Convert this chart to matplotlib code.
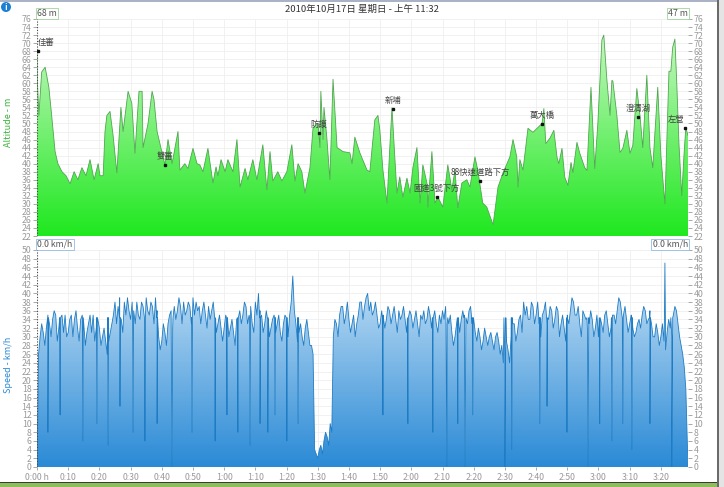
import numpy as np
import matplotlib.pyplot as plt
from matplotlib.patches import PathPatch, Ellipse, Rectangle
from matplotlib.colors import LinearSegmentedColormap

plt.rcParams['font.family'] = ['Noto Sans CJK TC', 'DejaVu Sans']

title = '2010年10月17日 星期日 - 上午 11:32'

# altitude profile (minutes, m)
alt_t = [0.0, 0.1, 0.6, 1.5, 2.6, 3.1, 3.8, 4.7, 5.8, 6.7, 8.0, 9.3, 10.6, 11.9, 13.1, 14.4,
         15.7, 17.0, 18.3, 19.6, 20.2, 21.2, 21.8, 22.4, 23.4, 24.4, 25.6, 26.9, 27.6, 29.2,
         30.4, 31.4, 32.7, 33.7, 34.0, 35.6, 36.9, 37.5, 38.5, 39.4, 41.0, 42.0, 43.3, 45.2,
         45.8, 47.4, 48.4, 50.0, 51.3, 52.2, 53.2, 54.8, 56.4, 57.4, 58.0, 59.0, 60.3, 61.2,
         62.8, 64.1, 65.1, 66.7, 67.6, 69.2, 70.5, 72.4, 73.7, 74.7, 75.6, 77.2, 78.5, 80.1,
         81.7, 82.7, 83.7, 84.9, 85.9, 87.5, 88.5, 90.1, 90.7, 91.0, 91.7, 92.0, 92.9, 93.9,
         94.9, 96.2, 98.1, 100.3, 101.0, 101.9, 103.5, 105.8, 106.7, 108.3, 109.3, 109.9,
         110.9, 112.2, 113.1, 113.8, 114.7, 115.4, 116.3, 117.3, 118.6, 119.6, 120.5, 121.8,
         122.8, 123.7, 125.0, 125.3, 126.6, 127.6, 128.5, 130.1, 131.7, 133.0, 134.0, 134.9,
         136.2, 137.8, 138.8, 140.4, 141.3, 142.9, 144.2, 146.2, 147.8, 149.4, 151.6, 152.6,
         153.8, 154.2, 154.8, 155.8, 157.4, 159.0, 160.6, 161.9, 162.5, 163.1, 164.4, 165.7,
         166.7, 167.3, 168.3, 169.2, 170.2, 171.2, 171.8, 173.1, 174.0, 175.6, 176.3, 177.6,
         178.8, 179.8, 181.1, 181.7, 182.7, 183.7, 184.3, 184.6, 185.9, 186.9, 187.8, 189.1,
         190.1, 191.0, 192.3, 193.3, 194.2, 195.5, 196.5, 197.4, 199.0, 200.0, 201.3, 201.9,
         202.6, 203.2, 203.8, 204.5, 205.1, 205.8, 206.7, 207.4, 208.0, 208.7]
alt_m = [68, 61, 52, 62.8, 64, 62, 59, 52, 43, 40, 38, 37, 35, 38, 36, 39,
         37, 41, 36, 40, 37, 37, 48, 52, 53, 47, 37.7, 54, 48, 58,
         55, 42.6, 58, 58, 44, 50, 58, 56, 48, 45, 39.7, 46, 40, 48,
         38.4, 40, 38.8, 43.8, 40, 39.7, 38, 43.8, 35.2, 39.2, 37, 41, 38, 41,
         38, 46, 34.2, 38.8, 36, 41, 36, 44.7, 33.5, 43, 35.7, 38, 35.7, 38,
         44.7, 35.7, 40, 38, 32.7, 39, 49, 50, 44, 58, 46, 54, 46.6, 36,
         61, 44, 43, 42.7, 40, 46.6, 42.7, 38.4, 38, 50.9, 52, 48.4,
         38.4, 30.2, 44, 53.9, 41.7, 32.7, 36.7, 31.7, 36.4, 32.7, 39, 44,
         30.2, 39.7, 35.2, 29.2, 43, 30.2, 31.7, 29.2, 39.7, 33.5, 38.4, 29,
         35.2, 36, 34.2, 41.7, 38.4, 30.2, 29.2, 24.8, 34.2, 37.7, 41.7, 46,
         41.7, 34.2, 41, 38.4, 48.8, 47.8, 49, 50, 53.7, 45, 46.3, 48.3,
         41.6, 40, 43.8, 36.6, 34.6, 40.3, 37.8, 45.3, 42.6, 39, 38.3, 59,
         38.8, 50, 70.8, 72, 60.8, 52, 60.7, 60.6, 52, 42.8, 43.8, 48.3,
         42.6, 44.5, 58.7, 52, 44, 62, 44, 39, 59, 42, 30, 45,
         63, 63, 69, 71, 60, 45, 32, 42, 49, 47]

# waypoints
wp_name = ['佳審', '雙審', '防護', '新埔', '國道3號下方', '88快速道路下方', '萬大橋', '澄清湖', '左營']
wp_t = [0.2, 41.0, 90.4, 114.0, 128.1, 142.0, 161.8, 192.7, 207.7]
wp_m = [68, 39.7, 47.6, 53.6, 31.7, 35.7, 49.8, 51.7, 48.8]
wp_ha = ['left', 'center', 'center', 'center', 'center', 'center', 'center', 'center', 'right']

# speed, one reading per minute (km/h)
spd_t = list(range(209)) + [208.7]
spd_v = [0, 30, 31, 32, 33, 34, 35, 32, 35, 35,
         31, 35, 34, 32, 34, 33, 31, 35, 35, 32,
         32, 30, 29, 29, 33, 38, 37, 34, 38, 39,
         34, 36, 38, 34, 37, 39, 35, 37, 39, 30,
         29, 31, 33, 36, 37, 36, 37, 38, 36, 37,
         39, 38, 37, 36, 35, 37, 36, 34, 33, 32,
         32, 33, 32, 31, 34, 36, 35, 37, 35, 33,
         38, 40, 35, 33, 34, 32, 35, 33, 31, 33,
         32, 35, 44, 33, 31, 30, 32, 31, 28, 4,
         2, 5, 6, 7, 10, 30, 33, 35, 37, 35,
         34, 33, 30, 35, 38, 37, 40, 38, 36, 35,
         33, 35, 34, 36, 35, 34, 36, 35, 34, 33,
         35, 34, 33, 35, 36, 34, 35, 34, 33, 35,
         36, 37, 33, 31, 30, 33, 34, 35, 33, 37,
         34, 29, 30, 29, 30, 30, 29, 30, 29, 28,
         25, 27, 30, 33, 31, 35, 38, 37, 34, 37,
         35, 33, 35, 38, 34, 36, 34, 36, 33, 32,
         35, 36, 38, 35, 33, 36, 34, 33, 34, 32,
         30, 33, 35, 33, 32, 35, 36, 38, 35, 34,
         33, 32, 31, 34, 35, 36, 34, 33, 30, 31,
         30, 29, 31, 32, 35, 36, 30, 26, 18, 0]

# readings in between, at each half minute (0.5 .. 207.5)
half_v = [26, 33, 28, 35, 30, 36, 29, 34, 31, 30,
          34, 30, 36, 29, 35, 28, 33, 31, 29, 34,
          28, 32, 26, 31, 35, 33, 39, 31, 35, 36,
          38, 33, 35, 38, 33, 36, 38, 33, 36, 27,
          33, 28, 35, 32, 34, 39, 33, 35, 38, 33,
          35, 36, 33, 38, 32, 34, 38, 31, 35, 29,
          35, 30, 34, 28, 32, 33, 38, 33, 37, 31,
          35, 36, 31, 36, 30, 34, 31, 35, 29, 35,
          30, 38, 36, 29, 33, 28, 34, 28, 26, 3,
          4, 3, 8, 5, 8, 34, 30, 37, 33, 38,
          31, 35, 33, 38, 34, 39, 36, 35, 38, 32,
          36, 32, 37, 33, 37, 31, 34, 37, 31, 36,
          32, 36, 30, 34, 33, 37, 32, 36, 31, 33,
          34, 33, 35, 28, 33, 31, 36, 32, 36, 33,
          31, 32, 27, 32, 28, 31, 27, 31, 26, 24,
          29, 24, 33, 29, 34, 31, 35, 34, 38, 33,
          38, 30, 36, 33, 37, 32, 37, 30, 35, 29,
          33, 39, 35, 37, 30, 35, 31, 36, 30, 35,
          33, 31, 36, 30, 35, 33, 39, 35, 37, 31,
          35, 30, 33, 32, 37, 33, 36, 30, 33, 28,
          33, 27, 34, 30, 37, 33, 28, 23]

# short dips / spikes in speed
dip_t = [3.5, 7.4, 14.7, 19.2, 22.8, 26.6, 30.8, 34.6, 38.5, 43.3, 49.7, 57.1, 60.9, 64.4,
         68.3, 71.5, 74.0, 76.3, 80.1, 83.7, 110.9, 118.9, 126.9, 131.4, 134.9, 137.2, 139.7,
         150.0, 152.2, 161.2, 163.5, 169.9, 176.6, 180.4, 184.3, 187.8, 190.7, 196.5, 201.3, 203.5]
dip_v = [8, 12, 6, 10, 5, 14, 8, 6, 10, 0, 8, 6, 12, 8,
         5, 10, 8, 12, 6, 10, 12, 10, 8, 0, 10, 0, 12,
         0, 4, 10, 14, 8, 0, 10, 6, 10, 4, 10, 47, 0]


def gradient_fill(ax, x, y, lo, hi, c_lo, c_hi):
    poly = ax.fill_between(x, lo, y, facecolor='none', edgecolor='none')
    cmap = LinearSegmentedColormap.from_list('g', [c_lo, c_hi])
    grad = np.linspace(1, 0, 256).reshape(-1, 1)
    im = ax.imshow(grad, extent=[x[0], x[-1], lo, hi], aspect='auto', cmap=cmap,
                   origin='upper', zorder=1, interpolation='bilinear')
    patch = PathPatch(poly.get_paths()[0], transform=ax.transData, facecolor='none', edgecolor='none')
    ax.add_patch(patch)
    im.set_clip_path(patch)


def style_axes(ax, lo, hi, show_x):
    ax.set_xlim(0, 208.7)
    ax.set_ylim(lo, hi)
    ax.set_yticks(np.arange(lo, hi + 1, 2))
    ax.set_xticks(np.arange(0, 201, 10))
    ax.grid(color='#efefef', lw=0.6, zorder=0)
    ax.set_axisbelow(True)
    for s in ax.spines.values():
        s.set_visible(False)
    ax.tick_params(axis='y', left=True, right=True, labelleft=True, labelright=True,
                   labelsize=6.3, colors='#9a9a9a', length=3, width=0.6, pad=1)
    if show_x:
        labels = ['%d:%02d' % (m // 60, m % 60) for m in range(0, 201, 10)]
        labels[0] = '0:00 h'
        ax.set_xticklabels(labels)
        ax.tick_params(axis='x', labelsize=6.3, colors='#9a9a9a', length=2, width=0.6, pad=2)
    else:
        ax.tick_params(axis='x', bottom=False, labelbottom=False)
    ax.axvline(0, color='#444444', lw=0.8, ls=(0, (1, 1.5)), zorder=5)


fig = plt.figure(figsize=(7.24, 4.87), dpi=100)

# altitude panel
ax1 = fig.add_axes([37 / 724, 1 - 236 / 487, 651 / 724, 217 / 487])
gradient_fill(ax1, alt_t, alt_m, 22, 76, '#1fe81f', '#d2f8cd')
ax1.plot(alt_t, alt_m, color='#4fa64f', lw=0.6, zorder=3)
style_axes(ax1, 22, 76, False)
ax1.plot(wp_t, wp_m, 's', ms=2, color='#111111', zorder=6)
for n, t, m, ha in zip(wp_name, wp_t, wp_m, wp_ha):
    ax1.annotate(n, (t, m), xytext=(0, 3), textcoords='offset points', ha=ha, va='bottom',
                 fontsize=6, color='#444444', zorder=7)
ax1.text(0, 1.005, '68 m', transform=ax1.transAxes, fontsize=6.3, color='#555555', va='bottom', ha='left',
         bbox=dict(boxstyle='square,pad=0.15', fc='white', ec='#9fd49f', lw=0.6))
ax1.text(1, 1.005, '47 m', transform=ax1.transAxes, fontsize=6.3, color='#555555', va='bottom', ha='right',
         bbox=dict(boxstyle='square,pad=0.15', fc='white', ec='#9fd49f', lw=0.6))

# speed panel: minute readings + half-minute readings + short dips
t = np.concatenate([np.array(spd_t, float), np.arange(len(half_v)) + 0.5])
v = np.concatenate([np.array(spd_v, float), np.array(half_v, float)])
order = np.argsort(t)
t, v = t[order], v[order]
for dt, dv in zip(dip_t, dip_v):
    w = 0.3 if dv == 0 else 0.15
    xs = [dt - w, dt, dt + w]
    ys = [np.interp(dt - w, t, v), dv, np.interp(dt + w, t, v)]
    t = np.concatenate([t, xs])
    v = np.concatenate([v, ys])
order = np.argsort(t, kind='stable')
t, v = t[order], v[order]

ax2 = fig.add_axes([37 / 724, 1 - 467 / 487, 651 / 724, 217 / 487])
gradient_fill(ax2, t, v, 0, 50, '#2a8ad6', '#d6eaf9')
ax2.plot(t, v, color='#1e7cc4', lw=0.6, zorder=3)
style_axes(ax2, 0, 50, True)
ax2.text(0, 1.005, '0.0 km/h', transform=ax2.transAxes, fontsize=6.3, color='#555555', va='bottom', ha='left',
         bbox=dict(boxstyle='square,pad=0.15', fc='white', ec='#8fbbe3', lw=0.6))
ax2.text(1, 1.005, '0.0 km/h', transform=ax2.transAxes, fontsize=6.3, color='#555555', va='bottom', ha='right',
         bbox=dict(boxstyle='square,pad=0.15', fc='white', ec='#8fbbe3', lw=0.6))

fig.text(0.5, 1 - 9 / 487, title, ha='center', va='center', fontsize=6.8, color='#333333')
fig.text(9 / 724, 1 - 122 / 487, 'Altitude - m', rotation=90, ha='center', va='center',
         fontsize=6.5, color='#3cb43c')
fig.text(9 / 724, 1 - 365 / 487, 'Speed - km/h', rotation=90, ha='center', va='center',
         fontsize=6.5, color='#2a8ad6')

# info icon and frame
fig.add_artist(Ellipse((6 / 724, 1 - 7 / 487), 10 / 724, 10 / 487, transform=fig.transFigure,
                       fc='#1a80d4', ec='none'))
fig.text(6 / 724, 1 - 7 / 487, 'i', ha='center', va='center', fontsize=6, color='white', weight='bold')
fig.add_artist(Rectangle((0, 1 - 2 / 487), 1, 2 / 487, transform=fig.transFigure, fc='#aab3c6', ec='none'))
fig.add_artist(Rectangle((0, 0), 1, 4 / 487, transform=fig.transFigure, fc='#8cbf5a', ec='none'))
fig.add_artist(Rectangle((0, 4 / 487), 1, 1.5 / 487, transform=fig.transFigure, fc='#3a3a3a', ec='none'))
fig.add_artist(Rectangle((1 - 6 / 724, 0), 6 / 724, 1, transform=fig.transFigure, fc='#e4e4e4', ec='none'))
fig.add_artist(Rectangle((1 - 7 / 724, 0), 1.5 / 724, 1, transform=fig.transFigure, fc='#6a6a6a', ec='none'))

fig.savefig('out.png', dpi=100)
